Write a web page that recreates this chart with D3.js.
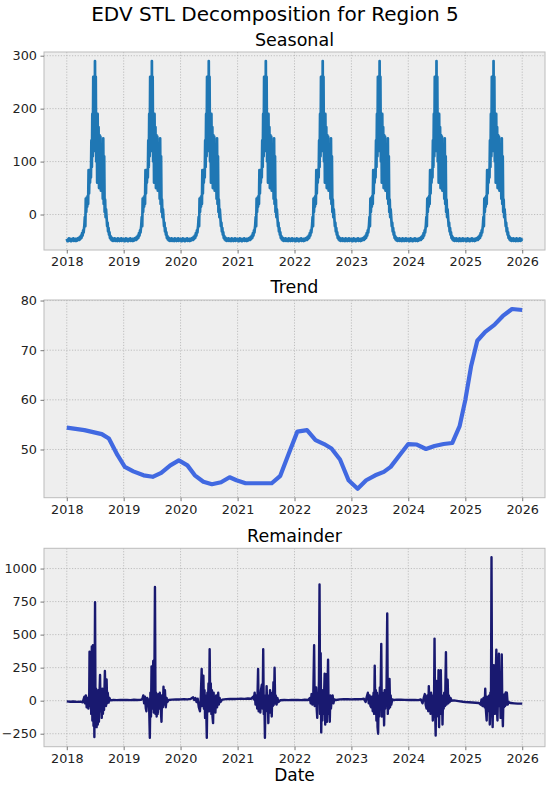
<!DOCTYPE html>
<html><head><meta charset="utf-8">
<script src="https://cdn.jsdelivr.net/npm/d3@7"></script>
<style>body{margin:0;background:#fff}svg{display:block}</style>
</head><body>
<svg id="chart" width="550" height="786"></svg>
<script>
// ---------------- DATA ----------------
const chartTitle = "EDV STL Decomposition for Region 5";
const panelTitles = ["Seasonal", "Trend", "Remainder"];
const xLabel = "Date";
const xTickYears = [2018, 2019, 2020, 2021, 2022, 2023, 2024, 2025, 2026];
const seasonalTicks = [0, 100, 200, 300];
const trendTicks = [50, 60, 70, 80];
const remainderTicks = [-250, 0, 250, 500, 750, 1000];

// Seasonal component: yearly cycle [day of year, value] (STL seasonal repeats each year)
const seasonalYears = [2018, 2019, 2020, 2021, 2022, 2023, 2024, 2025];
const seasonalCycle = [
  [0,-46],[3.5,-50],[7,-47],[10.5,-50],[14,-45],[17.5,-49],[21,-46],[24.5,-50],[28,-47],[31.5,-50],
  [35,-46],[38.5,-49],[42,-45],[45.5,-50],[49,-47],[52.5,-49],[56,-46],[59.5,-50],[63,-47],[66.5,-49],
  [70,-45],[73.5,-48],[77,-44],[80.5,-48],[84,-42],[87.5,-46],[91,-40],[94.5,-44],[98,-35],[101.5,-40],
  [105,-30],[108,-34],[110,-28],[113,-20],[116,-5],[119,-22],
  [122,30],[125,5],[128,32],[131,15],[134,35],[137,20],[140,84],[143,40],[146,82],[149,60],
  [152,85],[155,70],[158,140],[161,90],[164,190],[167,110],[170,260],[173,150],[176,255],[179,120],
  [181,290],[183,140],[186,260],[189,100],[192,190],[195,60],[198,190],[201,80],[204,165],[207,50],
  [210,150],[213,72],[216,147],[219,45],[222,120],[225,60],[228,100],[231,30],[234,144],[237,20],
  [240,110],[243,5],[246,28],[249,-5],[252,10],[256,-8],[259,-22],[262,-15],[265,-32],[268,-25],
  [271,-38],[274,-33],[277,-44],[280,-40],[283,-47],[286,-43],[289.5,-49],[293,-45],[296.5,-50],[300,-46],
  [303.5,-49],[307,-45],[310.5,-50],[314,-46],[317.5,-49],[321,-47],[324.5,-50],[328,-45],[331.5,-49],[335,-46],
  [338.5,-50],[342,-47],[345.5,-49],[349,-45],[352.5,-50],[356,-46],[359.5,-49],[363,-47]
];
const seasonalEnd = [2026.0, -48];

// Trend component: [decimal year, value]
const trend = [
  [2018.00,54.4],[2018.31,53.9],[2018.615,53.1],[2018.74,52.2],[2018.89,48.9],[2019.02,46.5],
  [2019.17,45.6],[2019.35,44.8],[2019.51,44.5],[2019.66,45.3],[2019.82,46.8],[2019.97,47.8],
  [2020.12,46.8],[2020.25,44.8],[2020.40,43.5],[2020.55,43.0],[2020.71,43.4],[2020.86,44.4],
  [2020.98,43.8],[2021.14,43.2],[2021.38,43.2],[2021.60,43.2],[2021.75,44.7],[2021.90,49.2],
  [2022.05,53.6],[2022.22,53.9],[2022.37,51.9],[2022.52,51.1],[2022.65,50.2],[2022.80,48.0],
  [2022.95,43.8],[2023.11,42.1],[2023.26,43.8],[2023.42,44.8],[2023.57,45.5],[2023.69,46.5],
  [2023.85,48.9],[2024.00,51.1],[2024.15,51.0],[2024.31,50.1],[2024.46,50.7],[2024.62,51.1],
  [2024.77,51.3],[2024.90,54.7],[2025.00,60.0],[2025.10,66.7],[2025.21,71.9],[2025.35,73.7],
  [2025.51,75.1],[2025.66,76.9],[2025.82,78.3],[2026.00,78.1]
];

// Remainder component: [decimal year, value]
const remainder = [
  [2018.00,-5],[2018.06,-8],[2018.12,-6],[2018.18,-9],[2018.24,-7],[2018.28,-12],[2018.31,30],[2018.32,-20],[2018.335,40],[2018.35,-50],[2018.365,20],[2018.38,-60],[2018.395,60],[2018.40,370],[2018.41,-40],[2018.42,120],[2018.43,-100],[2018.44,410],[2018.45,-150],[2018.46,420],[2018.47,-190],[2018.48,100],[2018.485,-275],[2018.497,745],[2018.505,-120],[2018.515,90],[2018.525,-200],[2018.535,40],[2018.545,-180],[2018.555,80],[2018.565,-160],[2018.575,50],[2018.585,195],[2018.595,-80],[2018.605,60],[2018.615,-130],[2018.625,90],[2018.635,-100],[2018.645,40],[2018.655,-70],[2018.67,225],[2018.68,20],[2018.69,-40],[2018.70,160],[2018.71,-20],[2018.72,60],[2018.735,-15],[2018.75,20],[2018.77,2],[2018.82,5],[2018.88,4],[2018.94,6],
  [2019.00,5],[2019.06,6],[2019.12,4],[2019.18,7],[2019.24,5],[2019.30,6],[2019.33,15],[2019.345,40],[2019.36,-20],[2019.375,30],[2019.39,-60],[2019.40,-80],[2019.415,20],[2019.43,-40],[2019.445,10],[2019.46,-280],[2019.47,60],[2019.48,-120],[2019.49,260],[2019.50,-60],[2019.51,120],[2019.52,300],[2019.53,-90],[2019.54,140],[2019.55,860],[2019.56,-100],[2019.57,60],[2019.58,-120],[2019.59,30],[2019.60,-100],[2019.61,50],[2019.62,-60],[2019.635,60],[2019.65,-40],[2019.665,-160],[2019.675,40],[2019.69,-50],[2019.70,105],[2019.71,-30],[2019.725,80],[2019.74,-50],[2019.755,20],[2019.77,-10],[2019.79,5],[2019.85,8],[2019.92,10],[2019.97,9],
  [2020.00,10],[2020.06,12],[2020.12,10],[2020.18,14],[2020.22,25],[2020.24,5],[2020.26,20],[2020.28,-10],[2020.30,15],[2020.32,-50],[2020.34,-80],[2020.355,30],[2020.37,240],[2020.38,-40],[2020.39,100],[2020.40,190],[2020.41,-60],[2020.42,80],[2020.43,-130],[2020.44,40],[2020.45,-60],[2020.46,-280],[2020.47,60],[2020.48,-20],[2020.49,130],[2020.50,-80],[2020.51,390],[2020.52,-50],[2020.53,130],[2020.54,-100],[2020.55,80],[2020.56,-120],[2020.57,-170],[2020.58,60],[2020.59,-60],[2020.60,30],[2020.61,-90],[2020.625,40],[2020.64,-50],[2020.66,60],[2020.67,-30],[2020.685,20],[2020.70,-10],[2020.73,8],[2020.80,12],[2020.87,14],[2020.94,13],
  [2021.00,14],[2021.06,15],[2021.12,14],[2021.18,16],[2021.24,15],[2021.27,30],[2021.285,10],[2021.30,60],[2021.315,-30],[2021.33,40],[2021.345,-60],[2021.36,240],[2021.37,-80],[2021.38,60],[2021.39,-40],[2021.40,-90],[2021.41,80],[2021.425,120],[2021.44,-60],[2021.45,390],[2021.46,-100],[2021.47,40],[2021.48,-280],[2021.49,30],[2021.50,-80],[2021.51,110],[2021.52,-60],[2021.53,40],[2021.54,-170],[2021.55,20],[2021.56,-60],[2021.57,80],[2021.58,-90],[2021.59,30],[2021.60,-120],[2021.61,60],[2021.62,-40],[2021.63,140],[2021.64,-30],[2021.65,250],[2021.66,-20],[2021.67,40],[2021.685,-30],[2021.70,20],[2021.72,-10],[2021.75,3],[2021.82,5],[2021.89,4],[2021.95,6],
  [2022.00,5],[2022.06,6],[2022.12,4],[2022.18,7],[2022.24,5],[2022.27,20],[2022.285,-20],[2022.30,50],[2022.315,-30],[2022.33,30],[2022.345,420],[2022.355,-40],[2022.37,60],[2022.38,100],[2022.39,-60],[2022.40,-130],[2022.41,40],[2022.42,-20],[2022.43,150],[2022.44,880],[2022.45,-100],[2022.46,360],[2022.47,-240],[2022.48,60],[2022.49,-150],[2022.50,80],[2022.51,-100],[2022.52,40],[2022.53,205],[2022.54,-180],[2022.55,60],[2022.56,200],[2022.57,-160],[2022.58,80],[2022.59,310],[2022.60,-100],[2022.61,30],[2022.62,-160],[2022.63,40],[2022.64,-60],[2022.655,20],[2022.67,40],[2022.685,-20],[2022.70,10],[2022.73,5],[2022.80,10],[2022.87,12],[2022.94,11],
  [2023.00,10],[2023.06,12],[2023.12,11],[2023.18,12],[2023.22,15],[2023.25,-10],[2023.27,30],[2023.29,60],[2023.305,-20],[2023.32,40],[2023.335,-40],[2023.35,-50],[2023.36,30],[2023.375,-80],[2023.39,60],[2023.40,-100],[2023.41,265],[2023.42,-60],[2023.43,80],[2023.44,-150],[2023.45,60],[2023.46,-200],[2023.47,-250],[2023.48,40],[2023.49,-120],[2023.50,100],[2023.51,-60],[2023.525,430],[2023.535,-120],[2023.545,60],[2023.555,-80],[2023.565,30],[2023.575,-187],[2023.585,80],[2023.595,-60],[2023.605,40],[2023.615,-40],[2023.63,660],[2023.64,-100],[2023.65,50],[2023.66,-60],[2023.67,165],[2023.68,-50],[2023.69,40],[2023.70,-30],[2023.72,10],[2023.75,5],[2023.80,8],[2023.87,7],[2023.94,6],
  [2024.00,5],[2024.06,6],[2024.12,5],[2024.18,4],[2024.22,10],[2024.25,-20],[2024.27,20],[2024.29,50],[2024.305,-30],[2024.32,-60],[2024.335,40],[2024.35,-80],[2024.36,110],[2024.37,-40],[2024.38,20],[2024.39,-100],[2024.40,60],[2024.41,-60],[2024.42,30],[2024.43,-150],[2024.44,40],[2024.45,-100],[2024.46,470],[2024.47,-60],[2024.48,-263],[2024.49,150],[2024.50,-120],[2024.51,60],[2024.52,-80],[2024.53,230],[2024.54,-200],[2024.55,80],[2024.56,-60],[2024.57,230],[2024.58,-100],[2024.59,40],[2024.60,-180],[2024.61,30],[2024.62,-60],[2024.63,60],[2024.645,-40],[2024.66,366],[2024.67,-30],[2024.68,40],[2024.69,159],[2024.70,-20],[2024.71,40],[2024.725,-10],[2024.74,20],[2024.76,0],[2024.80,2],[2024.88,-3],[2024.96,-8],
  [2025.00,-10],[2025.06,-12],[2025.12,-14],[2025.18,-16],[2025.24,-18],[2025.27,-30],[2025.285,10],[2025.30,-40],[2025.32,20],[2025.34,-50],[2025.35,90],[2025.36,-60],[2025.375,-150],[2025.385,30],[2025.40,20],[2025.41,-80],[2025.42,40],[2025.43,-180],[2025.44,60],[2025.45,-100],[2025.46,1085],[2025.47,-60],[2025.48,-200],[2025.49,100],[2025.50,268],[2025.51,-80],[2025.52,-100],[2025.53,120],[2025.545,386],[2025.555,-60],[2025.565,-150],[2025.575,80],[2025.59,356],[2025.60,-40],[2025.61,60],[2025.62,-130],[2025.63,40],[2025.64,350],[2025.65,-60],[2025.66,-194],[2025.67,40],[2025.68,-50],[2025.69,50],[2025.70,-40],[2025.71,63],[2025.72,-30],[2025.73,60],[2025.745,-30],[2025.76,-10],[2025.80,-18],[2025.86,-20],[2025.92,-22],[2026.00,-22]
];

// ---------------- HELPERS ----------------
function yearToDate(y) {
  const yr = Math.floor(y);
  const a = Date.UTC(yr, 0, 1), b = Date.UTC(yr + 1, 0, 1);
  return new Date(a + (y - yr) * (b - a));
}
const DAY = 86400000;
const seasonalSeries = [];
seasonalYears.forEach(yr => {
  const base = Date.UTC(yr, 0, 1);
  seasonalCycle.forEach(([d, v]) => seasonalSeries.push({ date: new Date(base + d * DAY), value: v }));
});
seasonalSeries.push({ date: yearToDate(seasonalEnd[0]), value: seasonalEnd[1] });
const trendSeries = trend.map(([y, v]) => ({ date: yearToDate(y), value: v }));
const remainderSeries = remainder.map(([y, v]) => ({ date: yearToDate(y), value: v }));

// ---------------- LAYOUT ----------------
const svg = d3.select("#chart");
const FONT = "DejaVu Sans, Liberation Sans, sans-serif";
const left = 44, right = 545;
const panels = [
  { title: panelTitles[0], data: seasonalSeries, ticks: seasonalTicks, top: 52, bottom: 250, color: "#1f77b4", width: 2.7, titleY: 46 },
  { title: panelTitles[1], data: trendSeries, ticks: trendTicks, top: 300, bottom: 497.7, color: "#4169e1", width: 4.2, titleY: 293 },
  { title: panelTitles[2], data: remainderSeries, ticks: remainderTicks, top: 548.3, bottom: 746.7, color: "#191970", width: 2.4, titleY: 541.5 }
];

const t0 = Date.UTC(2018, 0, 1), t1 = Date.UTC(2026, 0, 1);
const tpad = (t1 - t0) * 0.05;
const x = d3.scaleUtc().domain([new Date(t0 - tpad), new Date(t1 + tpad)]).range([left, right]);
const xTicks = xTickYears.map(y => new Date(Date.UTC(y, 0, 1)));

svg.append("text").attr("x", 275).attr("y", 21).attr("text-anchor", "middle")
  .attr("font-family", FONT).attr("font-size", 20).attr("fill", "#000").text(chartTitle);

panels.forEach((p, i) => {
  const ext = d3.extent(p.data, d => d.value);
  const m = (ext[1] - ext[0]) * 0.05;
  const y = d3.scaleLinear().domain([ext[0] - m, ext[1] + m]).range([p.bottom, p.top]);
  const g = svg.append("g");

  g.append("rect").attr("x", left).attr("y", p.top).attr("width", right - left).attr("height", p.bottom - p.top)
    .attr("fill", "#eeeeee");

  // grid
  const grid = g.append("g").attr("stroke", "#b2b2b2").attr("stroke-width", 0.8).attr("stroke-dasharray", "1.2,1.6");
  xTicks.forEach(t => grid.append("line").attr("x1", x(t)).attr("x2", x(t)).attr("y1", p.top).attr("y2", p.bottom));
  p.ticks.forEach(v => grid.append("line").attr("x1", left).attr("x2", right).attr("y1", y(v)).attr("y2", y(v)));

  // data line
  const clipId = "clip" + i;
  svg.append("clipPath").attr("id", clipId).append("rect")
    .attr("x", left).attr("y", p.top).attr("width", right - left).attr("height", p.bottom - p.top);
  g.append("path").datum(p.data).attr("clip-path", `url(#${clipId})`)
    .attr("fill", "none").attr("stroke", p.color).attr("stroke-width", p.width)
    .attr("stroke-linejoin", "round").attr("stroke-linecap", "butt")
    .attr("d", d3.line().x(d => x(d.date)).y(d => y(d.value)));

  // frame
  g.append("rect").attr("x", left).attr("y", p.top).attr("width", right - left).attr("height", p.bottom - p.top)
    .attr("fill", "none").attr("stroke", "#bcbcbc").attr("stroke-width", 1);

  // x axis
  const xa = g.append("g").attr("transform", `translate(0,${p.bottom})`)
    .call(d3.axisBottom(x).tickValues(xTicks).tickFormat(d3.utcFormat("%Y")).tickSize(3.5).tickPadding(3.5));
  // y axis
  const ya = g.append("g").attr("transform", `translate(${left},0)`)
    .call(d3.axisLeft(y).tickValues(p.ticks).tickFormat(v => v < 0 ? "\u2212" + Math.abs(v) : String(v)).tickSize(3.5).tickPadding(3.5));
  [xa, ya].forEach(a => {
    a.select(".domain").remove();
    a.selectAll(".tick line").attr("stroke", "#555555").attr("stroke-width", 0.8);
    a.selectAll(".tick text").attr("font-family", FONT).attr("font-size", 12.8).attr("fill", "#222");
  });

  // panel title
  svg.append("text").attr("x", (left + right) / 2).attr("y", p.titleY).attr("text-anchor", "middle")
    .attr("font-family", FONT).attr("font-size", 17.5).attr("fill", "#000").text(p.title);
});

svg.append("text").attr("x", (left + right) / 2).attr("y", 781).attr("text-anchor", "middle")
  .attr("font-family", FONT).attr("font-size", 17).attr("fill", "#000").text(xLabel);
</script>
</body></html>
